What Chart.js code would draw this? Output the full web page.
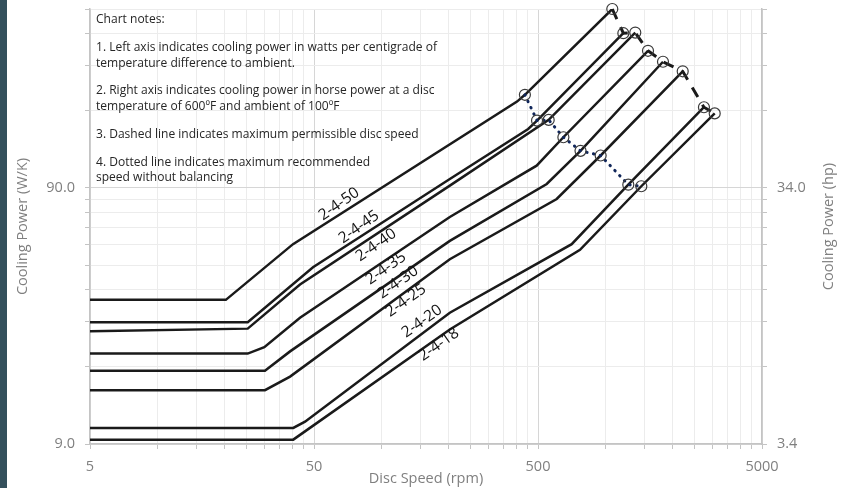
<!DOCTYPE html>
<html>
<head>
<meta charset="utf-8">
<script src="https://cdn.jsdelivr.net/npm/chart.js@4.4.1/dist/chart.umd.min.js"></script>
<style>
html, body { margin: 0; padding: 0; background: #fff; overflow: hidden; }
canvas { display: block; }
</style>
</head>
<body>
<canvas id="coolingChart" width="851" height="488"></canvas>
<script>
// disc curves, top to bottom
const curveNames = ['2-4-50', '2-4-45', '2-4-40', '2-4-35', '2-4-30', '2-4-25', '2-4-20', '2-4-18'];

const speed50 = [5, 20.2, 40.3, 403, 437, 1073];
const power50 = [32.9, 32.9, 54.3, 195.7, 208, 450];
const speed45 = [5, 25.3, 49.5, 202, 452, 495, 1202];
const power45 = [26.9, 26.9, 44.1, 97.6, 153, 165, 362];
const speed40 = [5, 25.3, 43.3, 202, 558, 1359];
const power40 = [24.8, 25.4, 37.8, 91.9, 166, 364];
const speed35 = [5, 25.3, 30.0, 43.3, 202, 493, 649, 1549];
const power35 = [20.3, 20.3, 21.5, 28.0, 69.3, 110, 142, 309];
const speed30 = [5, 30.2, 39.1, 202, 547, 774, 1807];
const power30 = [17.4, 17.4, 20.7, 55.9, 93.3, 125.7, 280];
const speed25 = [5, 30.2, 39.1, 202, 606, 952, 2213];
const power25 = [14.6, 14.6, 16.5, 47.4, 81.5, 120.5, 257];
const speed20 = [5, 40.4, 45.6, 202, 707, 1265, 2753];
const power20 = [10.4, 10.4, 11.0, 29.3, 54.3, 92.7, 186];
const speed18 = [5, 40.4, 202, 770, 1446, 3075];
const power18 = [9.36, 9.36, 25.2, 51.6, 91.4, 176];

// maximum permissible speed (dashed) and max recommended without balancing (dotted)
const maxSpeed = [1073, 1202, 1359, 1549, 1807, 2213, 2753, 3075];
const maxPower = [450, 362, 364, 309, 280, 257, 186, 176];
const recSpeed = [437, 495, 558, 649, 774, 952, 1265, 1446];
const recPower = [208, 165, 166, 142, 125.7, 120.5, 92.7, 91.4];

// where the curve names sit
const labelSpeed = [64.7, 79.4, 94.6, 104.8, 118.6, 128.7, 151.7, 180.7];
const labelPower = [77.9, 63.3, 53.8, 43.7, 38.5, 32.7, 27.1, 22.0];

// axis ticks
const speedTicks = [5, 10, 15, 20, 25, 30, 35, 40, 45, 50, 100, 150, 200, 250, 300, 350, 400, 450,
  500, 1000, 1500, 2000, 2500, 3000, 3500, 4000, 4500, 5000];
const speedLabelAt = [5, 50, 500, 5000];
const speedTickLabels = ['5', '50', '500', '5000'];
const powerTicks = [9, 18, 27, 36, 45, 54, 63, 72, 81, 90, 180, 270, 360, 450];
const powerLabelAt = [9, 90];
const powerTickLabels = ['9.0', '90.0'];
const hpTicks = [3.4, 6.8, 10.2, 13.6, 17, 20.4, 23.8, 27.2, 30.6, 34, 68, 102, 136, 170];
const hpLabelAt = [3.4, 34];
const hpTickLabels = ['3.4', '34.0'];

const noteLines = [
  'Chart notes:',
  '1. Left axis indicates cooling power in watts per centigrade of',
  'temperature difference to ambient.',
  '2. Right axis indicates cooling power in horse power at a disc',
  'temperature of 600\u00BAF and ambient of 100\u00BAF',
  '3. Dashed line indicates maximum permissible disc speed',
  '4. Dotted line indicates maximum recommended',
  'speed without balancing'
];

const FONT = "'Open Sans', sans-serif";
const GREY = '#7f7f7f';

const zip = (xs, ys) => xs.map((x, i) => ({ x: x, y: ys[i] }));
const curveSpeeds = [speed50, speed45, speed40, speed35, speed30, speed25, speed20, speed18];
const curvePowers = [power50, power45, power40, power35, power30, power25, power20, power18];

const datasets = curveNames.map((name, i) => ({
  label: name,
  data: zip(curveSpeeds[i], curvePowers[i]),
  showLine: true,
  borderColor: '#1a1a1a',
  borderWidth: 2.5,
  pointRadius: 0,
  tension: 0,
  order: 3
}));

datasets.push({
  label: 'Max recommended',
  data: zip(recSpeed, recPower),
  showLine: true,
  borderColor: '#10265a',
  borderWidth: 3,
  borderDash: [0.5, 6.5],
  borderCapStyle: 'round',
  pointRadius: 5.5,
  pointStyle: 'circle',
  pointBackgroundColor: 'rgba(0,0,0,0)',
  pointBorderColor: '#3a3a3a',
  pointBorderWidth: 1.2,
  order: 1
});

datasets.push({
  label: 'Max permissible',
  data: zip(maxSpeed, maxPower),
  showLine: true,
  borderColor: '#1a1a1a',
  borderWidth: 3,
  borderDash: [11, 9],
  pointRadius: 5.5,
  pointStyle: 'circle',
  pointBackgroundColor: 'rgba(0,0,0,0)',
  pointBorderColor: '#3a3a3a',
  pointBorderWidth: 1.2,
  clip: false,
  order: 1
});

function pickLabel(at, labels) {
  return (v) => {
    const i = at.indexOf(v);
    return i >= 0 ? labels[i] : '';
  };
}

function gridColor(majors) {
  return (c) => (c.tick && majors.indexOf(c.tick.value) >= 0) ? '#d6d6d6' : '#ececec';
}

// fixed axis boxes so the plot sits where the original does
function fixWidth(w) {
  return (s) => { s.width = w; s.paddingTop = 0; s.paddingBottom = 0; };
}

const backdrop = {
  id: 'backdrop',
  beforeDraw(chart) {
    const ctx = chart.ctx;
    ctx.save();
    ctx.fillStyle = '#ffffff';
    ctx.fillRect(0, 0, chart.width, chart.height);
    ctx.fillStyle = '#34505c';
    ctx.fillRect(0, 0, 7, chart.height);
    ctx.restore();
  }
};

const curveLabels = {
  id: 'curveLabels',
  afterDatasetsDraw(chart) {
    const ctx = chart.ctx;
    const xs = chart.scales.x, ys = chart.scales.y;
    ctx.save();
    ctx.fillStyle = '#111111';
    ctx.font = '15.5px ' + FONT;
    ctx.textAlign = 'center';
    ctx.textBaseline = 'middle';
    curveNames.forEach((name, i) => {
      ctx.save();
      ctx.translate(xs.getPixelForValue(labelSpeed[i]), ys.getPixelForValue(labelPower[i]));
      ctx.rotate(-35 * Math.PI / 180);
      ctx.fillText(name, 0, 0);
      ctx.restore();
    });
    ctx.restore();
  }
};

const notes = {
  id: 'notes',
  afterDraw(chart) {
    const ctx = chart.ctx;
    const baselines = [23.3, 50.7, 66.7, 94.3, 110, 138.3, 165.7, 181];
    ctx.save();
    ctx.font = '13px ' + FONT;
    ctx.fillStyle = '#262626';
    ctx.textBaseline = 'alphabetic';
    const squeeze = 341 / ctx.measureText(noteLines[1]).width;
    ctx.translate(96, 0);
    ctx.scale(squeeze, 1);
    noteLines.forEach((t, i) => ctx.fillText(t, 0, baselines[i]));
    ctx.restore();

    // right axis title reads bottom to top
    const area = chart.chartArea;
    ctx.save();
    ctx.font = '14.5px ' + FONT;
    ctx.fillStyle = GREY;
    ctx.textAlign = 'center';
    ctx.textBaseline = 'middle';
    ctx.translate(829, (area.top + area.bottom) / 2);
    ctx.rotate(-Math.PI / 2);
    ctx.fillText('Cooling Power (hp)', 0, 0);
    ctx.restore();
  }
};

new Chart(document.getElementById('coolingChart').getContext('2d'), {
  type: 'scatter',
  data: { datasets: datasets },
  options: {
    responsive: false,
    animation: false,
    layout: { padding: { top: 9, left: 0, right: 0, bottom: 0 } },
    plugins: { legend: { display: false }, tooltip: { enabled: false } },
    scales: {
      x: {
        type: 'logarithmic',
        min: 5,
        max: 5000,
        afterBuildTicks: (a) => { a.ticks = speedTicks.map(v => ({ value: v })); },
        afterFit: (s) => { s.height = 44; s.paddingLeft = 0; s.paddingRight = 0; },
        ticks: {
          autoSkip: false, maxRotation: 0, padding: 9, color: GREY,
          font: { family: FONT, size: 14.5 },
          callback: pickLabel(speedLabelAt, speedTickLabels)
        },
        grid: { color: gridColor(speedLabelAt), tickLength: 5, tickColor: '#c4c4c4' },
        border: { color: '#c4c4c4', width: 1.5 },
        title: {
          display: true, text: 'Disc Speed (rpm)', color: GREY,
          font: { family: FONT, size: 14.5 }, padding: { top: 0, bottom: 0 }
        }
      },
      y: {
        type: 'logarithmic',
        position: 'left',
        min: 9,
        max: 450,
        afterBuildTicks: (a) => { a.ticks = powerTicks.map(v => ({ value: v })); },
        afterFit: fixWidth(90),
        ticks: {
          autoSkip: false, padding: 10, color: GREY,
          font: { family: FONT, size: 14.5 },
          callback: pickLabel(powerLabelAt, powerTickLabels)
        },
        grid: { color: gridColor(powerLabelAt), tickLength: 5, tickColor: '#c4c4c4' },
        border: { color: '#c4c4c4', width: 1.5 },
        title: {
          display: true, text: 'Cooling Power (W/K)', color: GREY,
          font: { family: FONT, size: 14.5 }, padding: { top: 14, bottom: 0 }
        }
      },
      y2: {
        type: 'logarithmic',
        position: 'right',
        min: 3.4,
        max: 170,
        afterBuildTicks: (a) => { a.ticks = hpTicks.map(v => ({ value: v })); },
        afterFit: fixWidth(89),
        ticks: {
          autoSkip: false, padding: 10, color: GREY,
          font: { family: FONT, size: 14.5 },
          callback: pickLabel(hpLabelAt, hpTickLabels)
        },
        grid: { drawOnChartArea: false, tickLength: 5, color: '#c4c4c4' },
        border: { color: '#c4c4c4', width: 1.5 }
      }
    }
  },
  plugins: [backdrop, curveLabels, notes]
});
</script>
</body>
</html>
